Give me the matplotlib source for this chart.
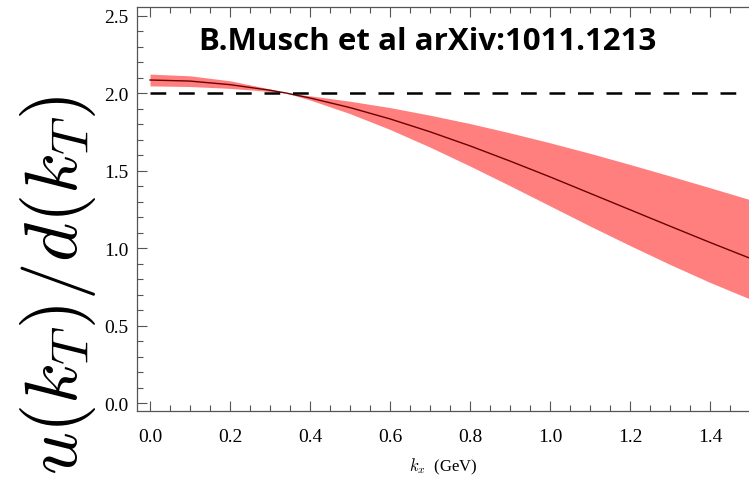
import matplotlib
matplotlib.use("Agg")
import matplotlib.pyplot as plt
from matplotlib.ticker import MultipleLocator

# data
kx = [0.0, 0.1, 0.2, 0.3, 0.34, 0.4, 0.5, 0.6, 0.7, 0.8, 0.9, 1.0, 1.1, 1.2, 1.3, 1.4, 1.5]
ratio_center = [2.084, 2.077, 2.054, 2.018, 2.000, 1.968, 1.906, 1.833, 1.750, 1.659,
                1.561, 1.459, 1.353, 1.247, 1.141, 1.036, 0.934]
ratio_upper = [2.122, 2.111, 2.079, 2.026, 2.000, 1.982, 1.947, 1.906, 1.857, 1.803,
               1.743, 1.679, 1.611, 1.539, 1.465, 1.389, 1.312]
ratio_lower = [2.046, 2.042, 2.030, 2.010, 2.000, 1.955, 1.867, 1.765, 1.651, 1.529,
               1.402, 1.272, 1.142, 1.016, 0.894, 0.778, 0.671]
ref_x = [0.0, 1.5]
ref_y = [2.0, 2.0]
xticks = [0.0, 0.2, 0.4, 0.6, 0.8, 1.0, 1.2, 1.4]
yticks = [0.0, 0.5, 1.0, 1.5, 2.0, 2.5]
title_text = "B.Musch et al arXiv:1011.1213"

plt.rcParams['mathtext.fontset'] = 'cm'

W, H = 749, 485
fig = plt.figure(figsize=(W / 100, H / 100), dpi=100)
ax = fig.add_axes([137 / W, 1 - 412 / H, (749 - 137) / W, (412 - 8) / H])

ax.fill_between(kx, ratio_lower, ratio_upper, color='#FF7F7F', linewidth=0)
ax.plot(kx, ratio_center, color='#6B0000', linewidth=1.0)
ax.plot(ref_x, ref_y, color='black', linewidth=1.8, linestyle=(0, (6.3, 5.1)))

ax.set_xlim(-0.0325, 1.4975)
ax.set_ylim(-0.0516, 2.555)

spine_c = '#555555'
for s in ['left', 'bottom', 'top']:
    ax.spines[s].set_color(spine_c)
    ax.spines[s].set_linewidth(0.9)
ax.spines['right'].set_visible(False)

ax.set_xticks(xticks)
ax.set_yticks(yticks)
ax.set_xticklabels([f"{v:.1f}" for v in xticks])
ax.set_yticklabels([f"{v:.1f}" for v in yticks])
ax.xaxis.set_minor_locator(MultipleLocator(0.05))
ax.yaxis.set_minor_locator(MultipleLocator(0.1))
ax.tick_params(which='both', direction='in', top=True, right=False, color=spine_c, width=0.8)
ax.tick_params(which='major', length=7)
ax.tick_params(which='minor', length=4)
ax.tick_params(axis='x', which='major', pad=12)
ax.tick_params(axis='y', which='major', pad=6)
for lab in ax.get_xticklabels() + ax.get_yticklabels():
    lab.set_fontfamily('Liberation Serif')
    lab.set_fontsize(14)

ax.set_xlabel(r"$k_x$  (GeV)", fontsize=12, fontfamily='Liberation Serif', labelpad=8)
fig.text(58 / W, 1 - 285 / H, r"$u(k_T)/d(k_T)$", fontsize=54, rotation=90,
         ha='center', va='center')

fig.text(428 / W, 1 - 42 / H, title_text, fontsize=22.5, fontweight='bold',
         fontfamily='Open Sans', ha='center', va='center')

fig.savefig("out.png", dpi=100)
